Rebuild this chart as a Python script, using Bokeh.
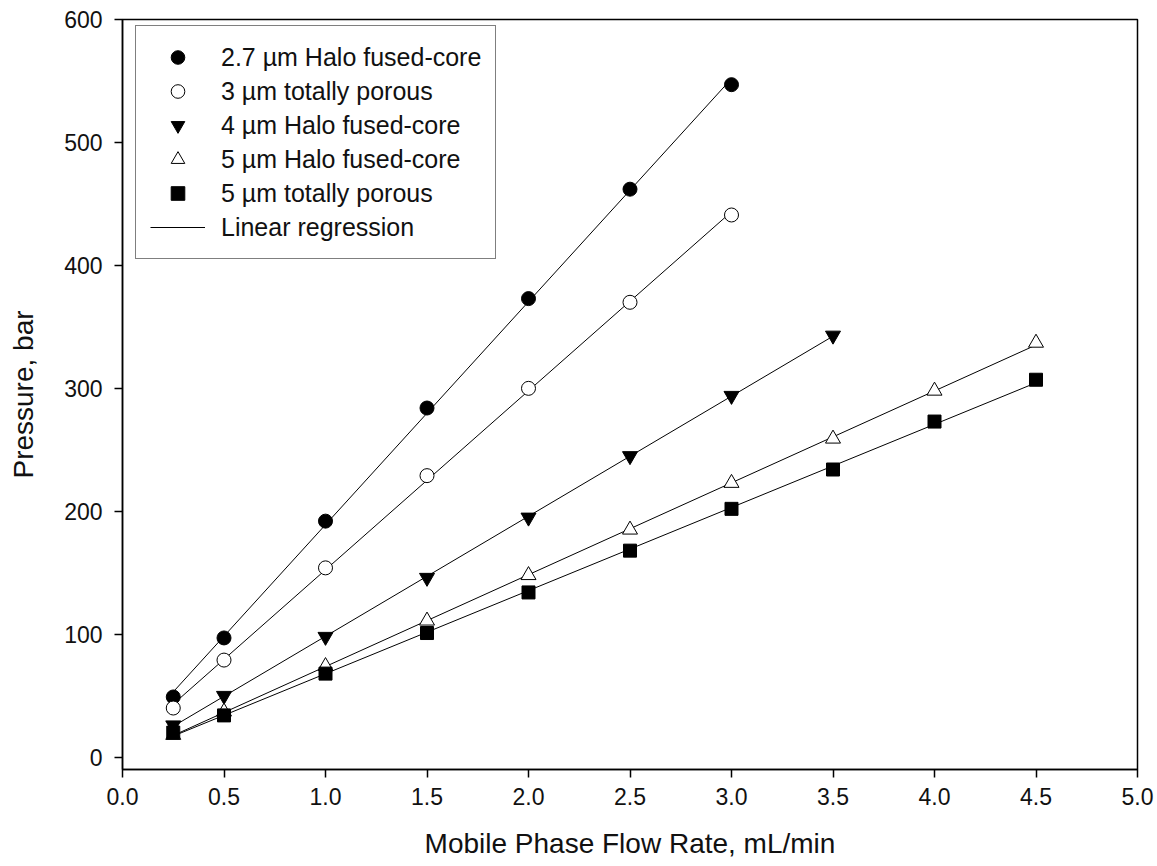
import numpy as np
from bokeh.plotting import figure
from bokeh.models import Range1d, FixedTicker, NumeralTickFormatter, Legend, LegendItem
from bokeh.embed import file_html
from bokeh.resources import INLINE

# Flow rates (mL/min)
flow_short = [0.25, 0.5, 1.0, 1.5, 2.0, 2.5, 3.0]
flow_mid = [0.25, 0.5, 1.0, 1.5, 2.0, 2.5, 3.0, 3.5]
flow_long = [0.25, 0.5, 1.0, 1.5, 2.0, 2.5, 3.0, 3.5, 4.0, 4.5]

# Back pressure (bar) per column
halo_27 = [49, 97, 192, 284, 373, 462, 547]
porous_3 = [40, 79, 154, 229, 300, 370, 441]
halo_4 = [26, 50, 98, 146, 195, 245, 294, 343]
halo_5 = [18, 37, 74, 111, 148, 185, 223, 259, 298, 337]
porous_5 = [20, 34, 68, 101, 134, 168, 202, 234, 273, 307]

labels = [
    "2.7 \u00b5m Halo fused-core",
    "3 \u00b5m totally porous",
    "4 \u00b5m Halo fused-core",
    "5 \u00b5m Halo fused-core",
    "5 \u00b5m totally porous",
]
x_ticks = [0.0, 0.5, 1.0, 1.5, 2.0, 2.5, 3.0, 3.5, 4.0, 4.5, 5.0]
y_ticks = [0, 100, 200, 300, 400, 500, 600]

FONT = "Liberation Sans"
INK = "#111111"

p = figure(
    width=1157, height=866,
    x_range=Range1d(0, 5.0), y_range=Range1d(-10, 600),
    output_backend="svg", toolbar_location=None,
    min_border_left=122, min_border_right=20,
    min_border_top=19, min_border_bottom=97,
)
p.xgrid.visible = False
p.ygrid.visible = False
p.outline_line_color = "black"
p.outline_line_width = 1.5
p.background_fill_color = "white"
p.border_fill_color = "white"

for ax in (p.xaxis[0], p.yaxis[0]):
    ax.axis_line_width = 1.5
    ax.axis_line_color = "black"
    ax.major_tick_line_width = 1.5
    ax.major_tick_line_color = "black"
    ax.major_tick_out = 8
    ax.major_tick_in = 0
    ax.minor_tick_line_color = None
    ax.major_label_text_font = FONT
    ax.major_label_text_font_size = "23px"
    ax.major_label_text_color = INK
    ax.axis_label_text_font = FONT
    ax.axis_label_text_font_size = "28px"
    ax.axis_label_text_font_style = "normal"
    ax.axis_label_text_color = INK

p.xaxis[0].ticker = FixedTicker(ticks=x_ticks)
p.xaxis[0].formatter = NumeralTickFormatter(format="0.0")
p.xaxis[0].major_label_standoff = 10
p.xaxis[0].axis_label = "Mobile Phase Flow Rate, mL/min"
p.xaxis[0].axis_label_standoff = 20

p.yaxis[0].ticker = FixedTicker(ticks=y_ticks)
p.yaxis[0].major_label_standoff = 12
p.yaxis[0].axis_label = "Pressure, bar"
p.yaxis[0].axis_label_standoff = 22

series = [
    (flow_short, halo_27, "circle", "black", 14),
    (flow_short, porous_3, "circle", "white", 14),
    (flow_mid, halo_4, "inverted_triangle", "black", 15),
    (flow_long, halo_5, "triangle", "white", 15),
    (flow_long, porous_5, "square", "black", 13),
]

# Least-squares fit line for every column, spanning its measured flow range
fit_renderers = []
for xs, ys, _, _, _ in series:
    slope, intercept = np.polyfit(xs, ys, 1)
    xx = [xs[0], xs[-1]]
    yy = [slope * xx[0] + intercept, slope * xx[1] + intercept]
    fit_renderers.append(p.line(xx, yy, line_color="black", line_width=1))

marker_renderers = []
for xs, ys, marker, fill, size in series:
    r = p.scatter(xs, ys, marker=marker, size=size, fill_color=fill,
                  line_color="black", line_width=1)
    marker_renderers.append(r)

items = [LegendItem(label=lab, renderers=[r]) for lab, r in zip(labels, marker_renderers)]
items.append(LegendItem(label="Linear regression", renderers=[fit_renderers[0]]))

legend = Legend(
    items=items,
    location=(13, 510),
    glyph_width=55, glyph_height=34,
    label_height=34, spacing=0, padding=14,
    label_standoff=16,
    label_text_font=FONT, label_text_font_size="25px", label_text_color=INK,
    border_line_color="black", border_line_width=1.5,
    background_fill_color="white", background_fill_alpha=1.0,
)
p.add_layout(legend)

open("out.html", "w").write(file_html(p, INLINE))
